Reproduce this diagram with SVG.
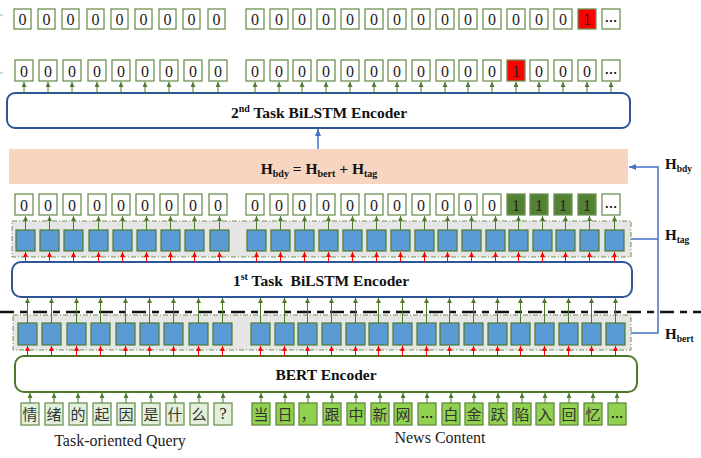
<svg xmlns="http://www.w3.org/2000/svg" width="701" height="458" viewBox="0 0 701 458">
<defs>
<style>
.b0{fill:#fff;stroke:#6F9153;stroke-width:1.3}
.rd{fill:#FF0000;stroke:#6F9153;stroke-width:1.3}
.g1{fill:#548235;stroke:#6F9153;stroke-width:1.3}
.t{font-family:"Liberation Serif",serif;font-size:16px;text-anchor:middle;fill:#222}
.dots{font-family:"Liberation Sans",sans-serif;font-size:13px;font-weight:bold;text-anchor:middle;fill:#222}
.cell{fill:#5B9BD5;stroke:#4E7A2E;stroke-width:1.2}
.q{fill:#E2EFD9;stroke:#6F9153;stroke-width:1.3}
.c{fill:#92D050;stroke:#5E8A3C;stroke-width:1.3}
.zh{font-family:"Noto Sans CJK SC",sans-serif;font-size:15px;text-anchor:middle;fill:#333}
.ga line{stroke:#4E7A2E;stroke-width:1;marker-end:url(#ag)}
.ra line{stroke:#FF0000;stroke-width:1;marker-end:url(#ar)}
.enc{fill:#fff;stroke-width:2}
.et{font-family:"Liberation Serif",serif;font-weight:bold;font-size:15.5px;text-anchor:middle;fill:#111;white-space:pre}
.hl{font-family:"Liberation Serif",serif;font-weight:bold;font-size:15px;fill:#111}
.box{fill:#E7E6E6;stroke:#6F9153;stroke-width:1;stroke-dasharray:5 2 1 2}
.bl{stroke:#4472C4;stroke-width:1.5;fill:none}
.lbl{font-family:"Liberation Serif",serif;font-size:16px;text-anchor:middle;fill:#222}
</style>
<marker id="ag" markerWidth="5" markerHeight="5" refX="5" refY="2.5" orient="auto" markerUnits="userSpaceOnUse"><path d="M0,0 L5,2.5 L0,5 z" fill="#4E7A2E"/></marker>
<marker id="ar" markerWidth="5" markerHeight="5" refX="5" refY="2.5" orient="auto" markerUnits="userSpaceOnUse"><path d="M0,0 L5,2.5 L0,5 z" fill="#FF0000"/></marker>
<marker id="ab" markerWidth="7" markerHeight="6" refX="7" refY="3" orient="auto" markerUnits="userSpaceOnUse"><path d="M0,0 L7,3 L0,6 z" fill="#4472C4"/></marker>
</defs>
<rect width="701" height="458" fill="#fff"/>

<line x1="0" y1="15" x2="3" y2="15" stroke="#9DB3D9" stroke-width="1"/>
<line x1="0" y1="73" x2="3" y2="73" stroke="#9DB3D9" stroke-width="1"/>

<g id="peach-bar"><rect x="9" y="149" width="619" height="35" fill="#F8D5C0"/>
<text class="et" x="319" y="174">H<tspan font-size="10" dy="3">bdy</tspan><tspan dy="-3"> = H</tspan><tspan font-size="10" dy="3">bert</tspan><tspan dy="-3"> + H</tspan><tspan font-size="10" dy="3">tag</tspan></text></g>
<g id="enc2"><rect class="enc" x="7" y="93" width="623" height="35" rx="8" stroke="#2F5597"/>
<text class="et" x="319" y="118">2<tspan font-size="10" dy="-6">nd</tspan><tspan dy="6"> Task BiLSTM Encoder</tspan></text></g>
<g id="upper-box"><rect class="box" x="12" y="221" width="619" height="36"/></g>
<g id="enc1"><rect class="enc" x="12" y="262" width="620" height="35" rx="9" stroke="#2F5597"/>
<text class="et" x="321" y="286">1<tspan font-size="10" dy="-6">st</tspan><tspan dy="6"> Task  BiLSTM Encoder</tspan></text></g>
<g id="lower-box"><rect class="box" x="13" y="315" width="618" height="35"/></g>
<g id="bert"><rect class="enc" x="15" y="356" width="622" height="36" rx="9" stroke="#4E7A2E"/>
<text class="et" x="326" y="380" font-size="16">BERT Encoder</text></g>

<g id="row1">
<g id="r1-0"><rect class="b0" x="14" y="9" width="17" height="20"/><text class="t" x="22.5" y="25">0</text></g>
<g id="r1-1"><rect class="b0" x="38" y="9" width="17" height="20"/><text class="t" x="46.5" y="25">0</text></g>
<g id="r1-2"><rect class="b0" x="62" y="9" width="17" height="20"/><text class="t" x="70.5" y="25">0</text></g>
<g id="r1-3"><rect class="b0" x="87" y="9" width="17" height="20"/><text class="t" x="95.5" y="25">0</text></g>
<g id="r1-4"><rect class="b0" x="111" y="9" width="17" height="20"/><text class="t" x="119.5" y="25">0</text></g>
<g id="r1-5"><rect class="b0" x="135" y="9" width="17" height="20"/><text class="t" x="143.5" y="25">0</text></g>
<g id="r1-6"><rect class="b0" x="159" y="9" width="17" height="20"/><text class="t" x="167.5" y="25">0</text></g>
<g id="r1-7"><rect class="b0" x="183" y="9" width="17" height="20"/><text class="t" x="191.5" y="25">0</text></g>
<g id="r1-8"><rect class="b0" x="208" y="9" width="17" height="20"/><text class="t" x="216.5" y="25">0</text></g>
<g id="r1-9"><rect class="b0" x="246" y="9" width="18" height="20"/><text class="t" x="255" y="25">0</text></g>
<g id="r1-10"><rect class="b0" x="270" y="9" width="18" height="20"/><text class="t" x="279" y="25">0</text></g>
<g id="r1-11"><rect class="b0" x="293" y="9" width="18" height="20"/><text class="t" x="302" y="25">0</text></g>
<g id="r1-12"><rect class="b0" x="317" y="9" width="18" height="20"/><text class="t" x="326" y="25">0</text></g>
<g id="r1-13"><rect class="b0" x="341" y="9" width="18" height="20"/><text class="t" x="350" y="25">0</text></g>
<g id="r1-14"><rect class="b0" x="365" y="9" width="18" height="20"/><text class="t" x="374" y="25">0</text></g>
<g id="r1-15"><rect class="b0" x="388" y="9" width="18" height="20"/><text class="t" x="397" y="25">0</text></g>
<g id="r1-16"><rect class="b0" x="412" y="9" width="18" height="20"/><text class="t" x="421" y="25">0</text></g>
<g id="r1-17"><rect class="b0" x="436" y="9" width="18" height="20"/><text class="t" x="445" y="25">0</text></g>
<g id="r1-18"><rect class="b0" x="459" y="9" width="18" height="20"/><text class="t" x="468" y="25">0</text></g>
<g id="r1-19"><rect class="b0" x="483" y="9" width="18" height="20"/><text class="t" x="492" y="25">0</text></g>
<g id="r1-20"><rect class="b0" x="507" y="9" width="18" height="20"/><text class="t" x="516" y="25">0</text></g>
<g id="r1-21"><rect class="b0" x="530" y="9" width="18" height="20"/><text class="t" x="539" y="25">0</text></g>
<g id="r1-22"><rect class="b0" x="554" y="9" width="18" height="20"/><text class="t" x="563" y="25">0</text></g>
<g id="r1-23"><rect class="rd" x="578" y="9" width="18" height="20"/><text class="t" x="587" y="25">1</text></g>
<g id="r1-24"><rect class="b0" x="602" y="9" width="18" height="20"/><text class="dots" x="611" y="22">…</text></g>
</g>

<g id="row2">
<g id="r2-0"><rect class="b0" x="15" y="60" width="18" height="21"/><text class="t" x="24" y="76.5">0</text></g>
<g id="r2-1"><rect class="b0" x="39" y="60" width="18" height="21"/><text class="t" x="48" y="76.5">0</text></g>
<g id="r2-2"><rect class="b0" x="63" y="60" width="18" height="21"/><text class="t" x="72" y="76.5">0</text></g>
<g id="r2-3"><rect class="b0" x="88" y="60" width="18" height="21"/><text class="t" x="97" y="76.5">0</text></g>
<g id="r2-4"><rect class="b0" x="112" y="60" width="18" height="21"/><text class="t" x="121" y="76.5">0</text></g>
<g id="r2-5"><rect class="b0" x="136" y="60" width="18" height="21"/><text class="t" x="145" y="76.5">0</text></g>
<g id="r2-6"><rect class="b0" x="160" y="60" width="18" height="21"/><text class="t" x="169" y="76.5">0</text></g>
<g id="r2-7"><rect class="b0" x="184" y="60" width="18" height="21"/><text class="t" x="193" y="76.5">0</text></g>
<g id="r2-8"><rect class="b0" x="209" y="60" width="18" height="21"/><text class="t" x="218" y="76.5">0</text></g>
<g id="r2-9"><rect class="b0" x="246" y="60" width="18" height="21"/><text class="t" x="255" y="76.5">0</text></g>
<g id="r2-10"><rect class="b0" x="270" y="60" width="18" height="21"/><text class="t" x="279" y="76.5">0</text></g>
<g id="r2-11"><rect class="b0" x="293" y="60" width="18" height="21"/><text class="t" x="302" y="76.5">0</text></g>
<g id="r2-12"><rect class="b0" x="317" y="60" width="18" height="21"/><text class="t" x="326" y="76.5">0</text></g>
<g id="r2-13"><rect class="b0" x="341" y="60" width="18" height="21"/><text class="t" x="350" y="76.5">0</text></g>
<g id="r2-14"><rect class="b0" x="365" y="60" width="18" height="21"/><text class="t" x="374" y="76.5">0</text></g>
<g id="r2-15"><rect class="b0" x="388" y="60" width="18" height="21"/><text class="t" x="397" y="76.5">0</text></g>
<g id="r2-16"><rect class="b0" x="412" y="60" width="18" height="21"/><text class="t" x="421" y="76.5">0</text></g>
<g id="r2-17"><rect class="b0" x="436" y="60" width="18" height="21"/><text class="t" x="445" y="76.5">0</text></g>
<g id="r2-18"><rect class="b0" x="459" y="60" width="18" height="21"/><text class="t" x="468" y="76.5">0</text></g>
<g id="r2-19"><rect class="b0" x="483" y="60" width="18" height="21"/><text class="t" x="492" y="76.5">0</text></g>
<g id="r2-20"><rect class="rd" x="507" y="60" width="18" height="21"/><text class="t" x="516" y="76.5">1</text></g>
<g id="r2-21"><rect class="b0" x="530" y="60" width="18" height="21"/><text class="t" x="539" y="76.5">0</text></g>
<g id="r2-22"><rect class="b0" x="554" y="60" width="18" height="21"/><text class="t" x="563" y="76.5">0</text></g>
<g id="r2-23"><rect class="b0" x="578" y="60" width="18" height="21"/><text class="t" x="587" y="76.5">0</text></g>
<g id="r2-24"><rect class="b0" x="602" y="60" width="18" height="21"/><text class="dots" x="611" y="74">…</text></g>
</g>

<g id="row3">
<g id="r3-0"><rect class="b0" x="15" y="194" width="18" height="21"/><text class="t" x="24" y="210.5">0</text></g>
<g id="r3-1"><rect class="b0" x="39" y="194" width="18" height="21"/><text class="t" x="48" y="210.5">0</text></g>
<g id="r3-2"><rect class="b0" x="63" y="194" width="18" height="21"/><text class="t" x="72" y="210.5">0</text></g>
<g id="r3-3"><rect class="b0" x="88" y="194" width="18" height="21"/><text class="t" x="97" y="210.5">0</text></g>
<g id="r3-4"><rect class="b0" x="112" y="194" width="18" height="21"/><text class="t" x="121" y="210.5">0</text></g>
<g id="r3-5"><rect class="b0" x="136" y="194" width="18" height="21"/><text class="t" x="145" y="210.5">0</text></g>
<g id="r3-6"><rect class="b0" x="160" y="194" width="18" height="21"/><text class="t" x="169" y="210.5">0</text></g>
<g id="r3-7"><rect class="b0" x="184" y="194" width="18" height="21"/><text class="t" x="193" y="210.5">0</text></g>
<g id="r3-8"><rect class="b0" x="209" y="194" width="18" height="21"/><text class="t" x="218" y="210.5">0</text></g>
<g id="r3-9"><rect class="b0" x="246" y="194" width="18" height="21"/><text class="t" x="255" y="210.5">0</text></g>
<g id="r3-10"><rect class="b0" x="270" y="194" width="18" height="21"/><text class="t" x="279" y="210.5">0</text></g>
<g id="r3-11"><rect class="b0" x="293" y="194" width="18" height="21"/><text class="t" x="302" y="210.5">0</text></g>
<g id="r3-12"><rect class="b0" x="317" y="194" width="18" height="21"/><text class="t" x="326" y="210.5">0</text></g>
<g id="r3-13"><rect class="b0" x="341" y="194" width="18" height="21"/><text class="t" x="350" y="210.5">0</text></g>
<g id="r3-14"><rect class="b0" x="365" y="194" width="18" height="21"/><text class="t" x="374" y="210.5">0</text></g>
<g id="r3-15"><rect class="b0" x="388" y="194" width="18" height="21"/><text class="t" x="397" y="210.5">0</text></g>
<g id="r3-16"><rect class="b0" x="412" y="194" width="18" height="21"/><text class="t" x="421" y="210.5">0</text></g>
<g id="r3-17"><rect class="b0" x="436" y="194" width="18" height="21"/><text class="t" x="445" y="210.5">0</text></g>
<g id="r3-18"><rect class="b0" x="459" y="194" width="18" height="21"/><text class="t" x="468" y="210.5">0</text></g>
<g id="r3-19"><rect class="b0" x="483" y="194" width="18" height="21"/><text class="t" x="492" y="210.5">0</text></g>
<g id="r3-20"><rect class="g1" x="507" y="194" width="18" height="21"/><text class="t" x="516" y="210.5">1</text></g>
<g id="r3-21"><rect class="g1" x="530" y="194" width="18" height="21"/><text class="t" x="539" y="210.5">1</text></g>
<g id="r3-22"><rect class="g1" x="554" y="194" width="18" height="21"/><text class="t" x="563" y="210.5">1</text></g>
<g id="r3-23"><rect class="g1" x="578" y="194" width="18" height="21"/><text class="t" x="587" y="210.5">1</text></g>
<g id="r3-24"><rect class="b0" x="602" y="194" width="18" height="21"/><text class="dots" x="611" y="208">…</text></g>
</g>

<g id="upper-cells">
<g id="u0"><rect class="cell" x="16" y="230" width="19" height="21"/></g>
<g id="u1"><rect class="cell" x="40" y="230" width="19" height="21"/></g>
<g id="u2"><rect class="cell" x="64" y="230" width="19" height="21"/></g>
<g id="u3"><rect class="cell" x="89" y="230" width="19" height="21"/></g>
<g id="u4"><rect class="cell" x="113" y="230" width="19" height="21"/></g>
<g id="u5"><rect class="cell" x="137" y="230" width="19" height="21"/></g>
<g id="u6"><rect class="cell" x="161" y="230" width="19" height="21"/></g>
<g id="u7"><rect class="cell" x="185" y="230" width="19" height="21"/></g>
<g id="u8"><rect class="cell" x="210" y="230" width="19" height="21"/></g>
<g id="u9"><rect class="cell" x="247" y="230" width="19" height="21"/></g>
<g id="u10"><rect class="cell" x="271" y="230" width="19" height="21"/></g>
<g id="u11"><rect class="cell" x="295" y="230" width="19" height="21"/></g>
<g id="u12"><rect class="cell" x="319" y="230" width="19" height="21"/></g>
<g id="u13"><rect class="cell" x="343" y="230" width="19" height="21"/></g>
<g id="u14"><rect class="cell" x="367" y="230" width="19" height="21"/></g>
<g id="u15"><rect class="cell" x="391" y="230" width="19" height="21"/></g>
<g id="u16"><rect class="cell" x="415" y="230" width="19" height="21"/></g>
<g id="u17"><rect class="cell" x="438" y="230" width="19" height="21"/></g>
<g id="u18"><rect class="cell" x="462" y="230" width="19" height="21"/></g>
<g id="u19"><rect class="cell" x="486" y="230" width="19" height="21"/></g>
<g id="u20"><rect class="cell" x="509" y="230" width="19" height="21"/></g>
<g id="u21"><rect class="cell" x="533" y="230" width="19" height="21"/></g>
<g id="u22"><rect class="cell" x="556" y="230" width="19" height="21"/></g>
<g id="u23"><rect class="cell" x="580" y="230" width="19" height="21"/></g>
<g id="u24"><rect class="cell" x="605" y="230" width="19" height="21"/></g>
</g>

<g id="lower-cells">
<g id="l0"><rect class="cell" x="18" y="323" width="19" height="22"/></g>
<g id="l1"><rect class="cell" x="42" y="323" width="19" height="22"/></g>
<g id="l2"><rect class="cell" x="67" y="323" width="19" height="22"/></g>
<g id="l3"><rect class="cell" x="91" y="323" width="19" height="22"/></g>
<g id="l4"><rect class="cell" x="116" y="323" width="19" height="22"/></g>
<g id="l5"><rect class="cell" x="140" y="323" width="19" height="22"/></g>
<g id="l6"><rect class="cell" x="164" y="323" width="19" height="22"/></g>
<g id="l7"><rect class="cell" x="189" y="323" width="19" height="22"/></g>
<g id="l8"><rect class="cell" x="213" y="323" width="19" height="22"/></g>
<g id="l9"><rect class="cell" x="251" y="323" width="19" height="22"/></g>
<g id="l10"><rect class="cell" x="275" y="323" width="19" height="22"/></g>
<g id="l11"><rect class="cell" x="298" y="323" width="19" height="22"/></g>
<g id="l12"><rect class="cell" x="322" y="323" width="19" height="22"/></g>
<g id="l13"><rect class="cell" x="346" y="323" width="19" height="22"/></g>
<g id="l14"><rect class="cell" x="369" y="323" width="19" height="22"/></g>
<g id="l15"><rect class="cell" x="393" y="323" width="19" height="22"/></g>
<g id="l16"><rect class="cell" x="417" y="323" width="19" height="22"/></g>
<g id="l17"><rect class="cell" x="440" y="323" width="19" height="22"/></g>
<g id="l18"><rect class="cell" x="464" y="323" width="19" height="22"/></g>
<g id="l19"><rect class="cell" x="488" y="323" width="19" height="22"/></g>
<g id="l20"><rect class="cell" x="511" y="323" width="19" height="22"/></g>
<g id="l21"><rect class="cell" x="535" y="323" width="19" height="22"/></g>
<g id="l22"><rect class="cell" x="559" y="323" width="19" height="22"/></g>
<g id="l23"><rect class="cell" x="582" y="323" width="19" height="22"/></g>
<g id="l24"><rect class="cell" x="606" y="323" width="19" height="22"/></g>
</g>

<g id="tokens">
<g id="q0"><rect class="q" x="21" y="403" width="18" height="22"/><text class="zh" x="30" y="420">情</text></g>
<g id="q1"><rect class="q" x="45" y="403" width="18" height="22"/><text class="zh" x="54" y="420">绪</text></g>
<g id="q2"><rect class="q" x="69" y="403" width="18" height="22"/><text class="zh" x="78" y="420">的</text></g>
<g id="q3"><rect class="q" x="93" y="403" width="18" height="22"/><text class="zh" x="102" y="420">起</text></g>
<g id="q4"><rect class="q" x="117" y="403" width="18" height="22"/><text class="zh" x="126" y="420">因</text></g>
<g id="q5"><rect class="q" x="142" y="403" width="18" height="22"/><text class="zh" x="151" y="420">是</text></g>
<g id="q6"><rect class="q" x="166" y="403" width="18" height="22"/><text class="zh" x="175" y="420">什</text></g>
<g id="q7"><rect class="q" x="190" y="403" width="18" height="22"/><text class="zh" x="199" y="420">么</text></g>
<g id="q8"><rect class="q" x="214" y="403" width="18" height="22"/><text class="t" x="223" y="419">?</text></g>
<g id="c0"><rect class="c" x="252" y="403" width="18" height="22"/><text class="zh" x="261" y="420">当</text></g>
<g id="c1"><rect class="c" x="276" y="403" width="18" height="22"/><text class="zh" x="285" y="420">日</text></g>
<g id="c2"><rect class="c" x="299" y="403" width="18" height="22"/><text class="zh" x="308" y="420">，</text></g>
<g id="c3"><rect class="c" x="323" y="403" width="18" height="22"/><text class="zh" x="332" y="420">跟</text></g>
<g id="c4"><rect class="c" x="347" y="403" width="18" height="22"/><text class="zh" x="356" y="420">中</text></g>
<g id="c5"><rect class="c" x="371" y="403" width="18" height="22"/><text class="zh" x="380" y="420">新</text></g>
<g id="c6"><rect class="c" x="394" y="403" width="18" height="22"/><text class="zh" x="403" y="420">网</text></g>
<g id="c7"><rect class="c" x="418" y="403" width="18" height="22"/><text class="dots" x="427" y="418">…</text></g>
<g id="c8"><rect class="c" x="442" y="403" width="18" height="22"/><text class="zh" x="451" y="420">白</text></g>
<g id="c9"><rect class="c" x="465" y="403" width="18" height="22"/><text class="zh" x="474" y="420">金</text></g>
<g id="c10"><rect class="c" x="489" y="403" width="18" height="22"/><text class="zh" x="498" y="420">跃</text></g>
<g id="c11"><rect class="c" x="513" y="403" width="18" height="22"/><text class="zh" x="522" y="420">陷</text></g>
<g id="c12"><rect class="c" x="536" y="403" width="18" height="22"/><text class="zh" x="545" y="420">入</text></g>
<g id="c13"><rect class="c" x="560" y="403" width="18" height="22"/><text class="zh" x="569" y="420">回</text></g>
<g id="c14"><rect class="c" x="584" y="403" width="18" height="22"/><text class="zh" x="593" y="420">忆</text></g>
<g id="c15"><rect class="c" x="608" y="403" width="18" height="22"/><text class="dots" x="617" y="418">…</text></g>
</g>

<g id="labels">
<text class="lbl" x="120" y="446">Task-oriented Query</text>
<text class="lbl" x="440" y="443">News Content</text>
<text class="hl" x="665" y="169">H<tspan font-size="9.5" dy="3">bdy</tspan></text>
<text class="hl" x="665" y="240">H<tspan font-size="9.5" dy="3">tag</tspan></text>
<text class="hl" x="665" y="339">H<tspan font-size="9.5" dy="3">bert</tspan></text>
</g>

<g id="connectors">
<line x1="0" y1="312" x2="701" y2="312" stroke="#111" stroke-width="2.5" stroke-dasharray="14 6 7 6"/>
<line class="bl" x1="318" y1="149" x2="318" y2="129" marker-end="url(#ab)"/>
<path class="bl" d="M631,333 H658 V167 H629" marker-end="url(#ab)"/>
<line class="bl" x1="631" y1="239" x2="658" y2="239"/>
<g class="ga" id="arrows-row2">
<line x1="24" y1="93" x2="24" y2="82"/><line x1="48" y1="93" x2="48" y2="82"/><line x1="72" y1="93" x2="72" y2="82"/><line x1="97" y1="93" x2="97" y2="82"/><line x1="121" y1="93" x2="121" y2="82"/><line x1="145" y1="93" x2="145" y2="82"/><line x1="169" y1="93" x2="169" y2="82"/><line x1="193" y1="93" x2="193" y2="82"/><line x1="218" y1="93" x2="218" y2="82"/>
<line x1="255" y1="93" x2="255" y2="82"/><line x1="279" y1="93" x2="279" y2="82"/><line x1="302" y1="93" x2="302" y2="82"/><line x1="326" y1="93" x2="326" y2="82"/><line x1="350" y1="93" x2="350" y2="82"/><line x1="374" y1="93" x2="374" y2="82"/><line x1="397" y1="93" x2="397" y2="82"/><line x1="421" y1="93" x2="421" y2="82"/><line x1="445" y1="93" x2="445" y2="82"/><line x1="468" y1="93" x2="468" y2="82"/><line x1="492" y1="93" x2="492" y2="82"/><line x1="516" y1="93" x2="516" y2="82"/><line x1="539" y1="93" x2="539" y2="82"/><line x1="563" y1="93" x2="563" y2="82"/><line x1="587" y1="93" x2="587" y2="82"/><line x1="611" y1="93" x2="611" y2="82"/>
</g>
<g class="ga" id="arrows-row3">
<line x1="25.5" y1="230" x2="25.5" y2="216"/><line x1="49.5" y1="230" x2="49.5" y2="216"/><line x1="73.5" y1="230" x2="73.5" y2="216"/><line x1="98.5" y1="230" x2="98.5" y2="216"/><line x1="122.5" y1="230" x2="122.5" y2="216"/><line x1="146.5" y1="230" x2="146.5" y2="216"/><line x1="170.5" y1="230" x2="170.5" y2="216"/><line x1="194.5" y1="230" x2="194.5" y2="216"/><line x1="219.5" y1="230" x2="219.5" y2="216"/>
<line x1="256.5" y1="230" x2="256.5" y2="216"/><line x1="280.5" y1="230" x2="280.5" y2="216"/><line x1="304.5" y1="230" x2="304.5" y2="216"/><line x1="328.5" y1="230" x2="328.5" y2="216"/><line x1="352.5" y1="230" x2="352.5" y2="216"/><line x1="376.5" y1="230" x2="376.5" y2="216"/><line x1="400.5" y1="230" x2="400.5" y2="216"/><line x1="424.5" y1="230" x2="424.5" y2="216"/><line x1="447.5" y1="230" x2="447.5" y2="216"/><line x1="471.5" y1="230" x2="471.5" y2="216"/><line x1="495.5" y1="230" x2="495.5" y2="216"/><line x1="518.5" y1="230" x2="518.5" y2="216"/><line x1="542.5" y1="230" x2="542.5" y2="216"/><line x1="565.5" y1="230" x2="565.5" y2="216"/><line x1="589.5" y1="230" x2="589.5" y2="216"/><line x1="614.5" y1="230" x2="614.5" y2="216"/>
</g>
<g class="ra" id="arrows-upper-red">
<line x1="25.5" y1="262" x2="25.5" y2="252"/><line x1="49.5" y1="262" x2="49.5" y2="252"/><line x1="73.5" y1="262" x2="73.5" y2="252"/><line x1="98.5" y1="262" x2="98.5" y2="252"/><line x1="122.5" y1="262" x2="122.5" y2="252"/><line x1="146.5" y1="262" x2="146.5" y2="252"/><line x1="170.5" y1="262" x2="170.5" y2="252"/><line x1="194.5" y1="262" x2="194.5" y2="252"/><line x1="219.5" y1="262" x2="219.5" y2="252"/>
<line x1="256.5" y1="262" x2="256.5" y2="252"/><line x1="280.5" y1="262" x2="280.5" y2="252"/><line x1="304.5" y1="262" x2="304.5" y2="252"/><line x1="328.5" y1="262" x2="328.5" y2="252"/><line x1="352.5" y1="262" x2="352.5" y2="252"/><line x1="376.5" y1="262" x2="376.5" y2="252"/><line x1="400.5" y1="262" x2="400.5" y2="252"/><line x1="424.5" y1="262" x2="424.5" y2="252"/><line x1="447.5" y1="262" x2="447.5" y2="252"/><line x1="471.5" y1="262" x2="471.5" y2="252"/><line x1="495.5" y1="262" x2="495.5" y2="252"/><line x1="518.5" y1="262" x2="518.5" y2="252"/><line x1="542.5" y1="262" x2="542.5" y2="252"/><line x1="565.5" y1="262" x2="565.5" y2="252"/><line x1="589.5" y1="262" x2="589.5" y2="252"/><line x1="614.5" y1="262" x2="614.5" y2="252"/>
</g>
<g class="ga" id="arrows-lower-green">
<line x1="27.5" y1="323" x2="27.5" y2="298"/><line x1="51.5" y1="323" x2="51.5" y2="298"/><line x1="76.5" y1="323" x2="76.5" y2="298"/><line x1="100.5" y1="323" x2="100.5" y2="298"/><line x1="125.5" y1="323" x2="125.5" y2="298"/><line x1="149.5" y1="323" x2="149.5" y2="298"/><line x1="173.5" y1="323" x2="173.5" y2="298"/><line x1="198.5" y1="323" x2="198.5" y2="298"/><line x1="222.5" y1="323" x2="222.5" y2="298"/>
<line x1="260.5" y1="323" x2="260.5" y2="298"/><line x1="284.5" y1="323" x2="284.5" y2="298"/><line x1="307.5" y1="323" x2="307.5" y2="298"/><line x1="331.5" y1="323" x2="331.5" y2="298"/><line x1="355.5" y1="323" x2="355.5" y2="298"/><line x1="378.5" y1="323" x2="378.5" y2="298"/><line x1="402.5" y1="323" x2="402.5" y2="298"/><line x1="426.5" y1="323" x2="426.5" y2="298"/><line x1="449.5" y1="323" x2="449.5" y2="298"/><line x1="473.5" y1="323" x2="473.5" y2="298"/><line x1="497.5" y1="323" x2="497.5" y2="298"/><line x1="520.5" y1="323" x2="520.5" y2="298"/><line x1="544.5" y1="323" x2="544.5" y2="298"/><line x1="568.5" y1="323" x2="568.5" y2="298"/><line x1="591.5" y1="323" x2="591.5" y2="298"/><line x1="615.5" y1="323" x2="615.5" y2="298"/>
</g>
<g class="ra" id="arrows-lower-red">
<line x1="27.5" y1="356" x2="27.5" y2="346"/><line x1="51.5" y1="356" x2="51.5" y2="346"/><line x1="76.5" y1="356" x2="76.5" y2="346"/><line x1="100.5" y1="356" x2="100.5" y2="346"/><line x1="125.5" y1="356" x2="125.5" y2="346"/><line x1="149.5" y1="356" x2="149.5" y2="346"/><line x1="173.5" y1="356" x2="173.5" y2="346"/><line x1="198.5" y1="356" x2="198.5" y2="346"/><line x1="222.5" y1="356" x2="222.5" y2="346"/>
<line x1="260.5" y1="356" x2="260.5" y2="346"/><line x1="284.5" y1="356" x2="284.5" y2="346"/><line x1="307.5" y1="356" x2="307.5" y2="346"/><line x1="331.5" y1="356" x2="331.5" y2="346"/><line x1="355.5" y1="356" x2="355.5" y2="346"/><line x1="378.5" y1="356" x2="378.5" y2="346"/><line x1="402.5" y1="356" x2="402.5" y2="346"/><line x1="426.5" y1="356" x2="426.5" y2="346"/><line x1="449.5" y1="356" x2="449.5" y2="346"/><line x1="473.5" y1="356" x2="473.5" y2="346"/><line x1="497.5" y1="356" x2="497.5" y2="346"/><line x1="520.5" y1="356" x2="520.5" y2="346"/><line x1="544.5" y1="356" x2="544.5" y2="346"/><line x1="568.5" y1="356" x2="568.5" y2="346"/><line x1="591.5" y1="356" x2="591.5" y2="346"/><line x1="615.5" y1="356" x2="615.5" y2="346"/>
</g>
<g class="ga" id="arrows-tokens">
<line x1="30" y1="403" x2="30" y2="393"/><line x1="54" y1="403" x2="54" y2="393"/><line x1="78" y1="403" x2="78" y2="393"/><line x1="102" y1="403" x2="102" y2="393"/><line x1="126" y1="403" x2="126" y2="393"/><line x1="151" y1="403" x2="151" y2="393"/><line x1="175" y1="403" x2="175" y2="393"/><line x1="199" y1="403" x2="199" y2="393"/><line x1="223" y1="403" x2="223" y2="393"/>
<line x1="261" y1="403" x2="261" y2="393"/><line x1="285" y1="403" x2="285" y2="393"/><line x1="308" y1="403" x2="308" y2="393"/><line x1="332" y1="403" x2="332" y2="393"/><line x1="356" y1="403" x2="356" y2="393"/><line x1="380" y1="403" x2="380" y2="393"/><line x1="403" y1="403" x2="403" y2="393"/><line x1="427" y1="403" x2="427" y2="393"/><line x1="451" y1="403" x2="451" y2="393"/><line x1="474" y1="403" x2="474" y2="393"/><line x1="498" y1="403" x2="498" y2="393"/><line x1="522" y1="403" x2="522" y2="393"/><line x1="545" y1="403" x2="545" y2="393"/><line x1="569" y1="403" x2="569" y2="393"/><line x1="593" y1="403" x2="593" y2="393"/><line x1="617" y1="403" x2="617" y2="393"/>
</g>
</g>
</svg>
